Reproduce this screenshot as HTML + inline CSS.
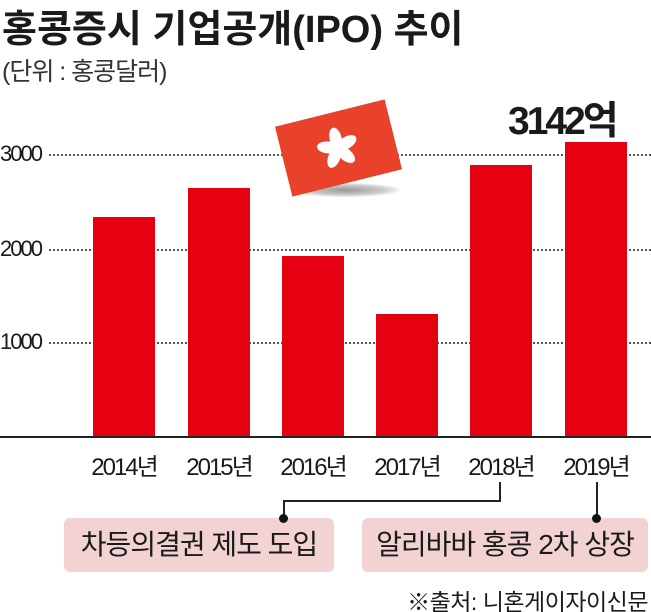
<!DOCTYPE html>
<html><head><meta charset="utf-8"><style>
body{margin:0;background:#fff;}
.w{position:relative;width:651px;height:612px;overflow:hidden;font-family:"Liberation Sans","Noto Sans CJK KR",sans-serif;color:#1a1a1a;}
.a{position:absolute;white-space:nowrap;}
.bar{position:absolute;background:#e50012;width:62px;}
.g{position:absolute;left:0;width:651px;border-top:2px dotted #555;height:0;}
.yl{position:absolute;left:0;font-size:22px;letter-spacing:-2px;background:#fff;padding-right:6px;line-height:24px;}
.xl{position:absolute;top:447px;font-size:24px;letter-spacing:-2px;width:100px;text-align:center;}
.box{position:absolute;top:518px;height:54px;background:#f2d2d3;border-radius:6px;font-size:28px;line-height:54px;text-align:center;letter-spacing:-1px;}
.dot{position:absolute;width:9px;height:9px;border-radius:50%;background:#111;}
</style></head><body><div class="w">
<div class="a" style="left:2px;top:-2px;font-size:38px;font-weight:bold;letter-spacing:0px;">홍콩증시 기업공개(IPO) 추이</div>
<div class="a" style="left:2px;top:52px;font-size:25px;color:#333;letter-spacing:-1px;">(단위 : 홍콩달러)</div>
<div class="a" style="left:508px;top:90px;font-size:39px;font-weight:bold;letter-spacing:-3px;">3142억</div>
<div class="g" style="top:154px"></div>
<div class="g" style="top:249px"></div>
<div class="g" style="top:342px"></div>
<div class="yl" style="top:142px">3000</div>
<div class="yl" style="top:237px">2000</div>
<div class="yl" style="top:330px">1000</div>
<div class="a" style="left:290px;top:183px;width:110px;height:14px;border-radius:50%;background:radial-gradient(ellipse,#999 0%,#ccc 50%,rgba(255,255,255,0) 75%);"></div>
<div class="a" style="left:282px;top:112px;width:113px;height:72px;background:#e8432a;transform:rotate(-14deg);">
<svg width="113" height="72" viewBox="0 0 113 72" style="position:absolute;left:0;top:0">
<g transform="translate(56,36)" fill="#fff">
<ellipse cx="0" cy="-10" rx="6" ry="11"/>
<ellipse cx="0" cy="-10" rx="6" ry="11" transform="rotate(72)"/>
<ellipse cx="0" cy="-10" rx="6" ry="11" transform="rotate(144)"/>
<ellipse cx="0" cy="-10" rx="6" ry="11" transform="rotate(216)"/>
<ellipse cx="0" cy="-10" rx="6" ry="11" transform="rotate(288)"/>
</g></svg></div>
<div class="bar" style="left:93px;top:217px;height:220px"></div>
<div class="bar" style="left:188px;top:188px;height:249px"></div>
<div class="bar" style="left:282px;top:256px;height:181px"></div>
<div class="bar" style="left:376px;top:314px;height:123px"></div>
<div class="bar" style="left:470px;top:165px;height:272px"></div>
<div class="bar" style="left:565px;top:142px;height:295px"></div>
<div class="a" style="left:0;top:436px;width:651px;height:2px;background:#222"></div>
<div class="xl" style="left:74px">2014년</div>
<div class="xl" style="left:169px">2015년</div>
<div class="xl" style="left:263px">2016년</div>
<div class="xl" style="left:357px">2017년</div>
<div class="xl" style="left:451px">2018년</div>
<div class="xl" style="left:546px">2019년</div>
<div class="a" style="left:499px;top:482px;width:2px;height:20px;background:#222"></div>
<div class="a" style="left:283px;top:500px;width:218px;height:2px;background:#222"></div>
<div class="a" style="left:283px;top:500px;width:2px;height:20px;background:#222"></div>
<div class="a" style="left:596px;top:482px;width:2px;height:38px;background:#222"></div>
<div class="box" style="left:64px;width:270px">차등의결권 제도 도입</div>
<div class="box" style="left:362px;width:286px">알리바바 홍콩 2차 상장</div>
<div class="dot" style="left:279px;top:514px"></div>
<div class="dot" style="left:592px;top:514px"></div>
<div class="a" style="right:3px;top:583px;font-size:23px;letter-spacing:-0.5px;">※출처: 니혼게이자이신문</div>
</div></body></html>
